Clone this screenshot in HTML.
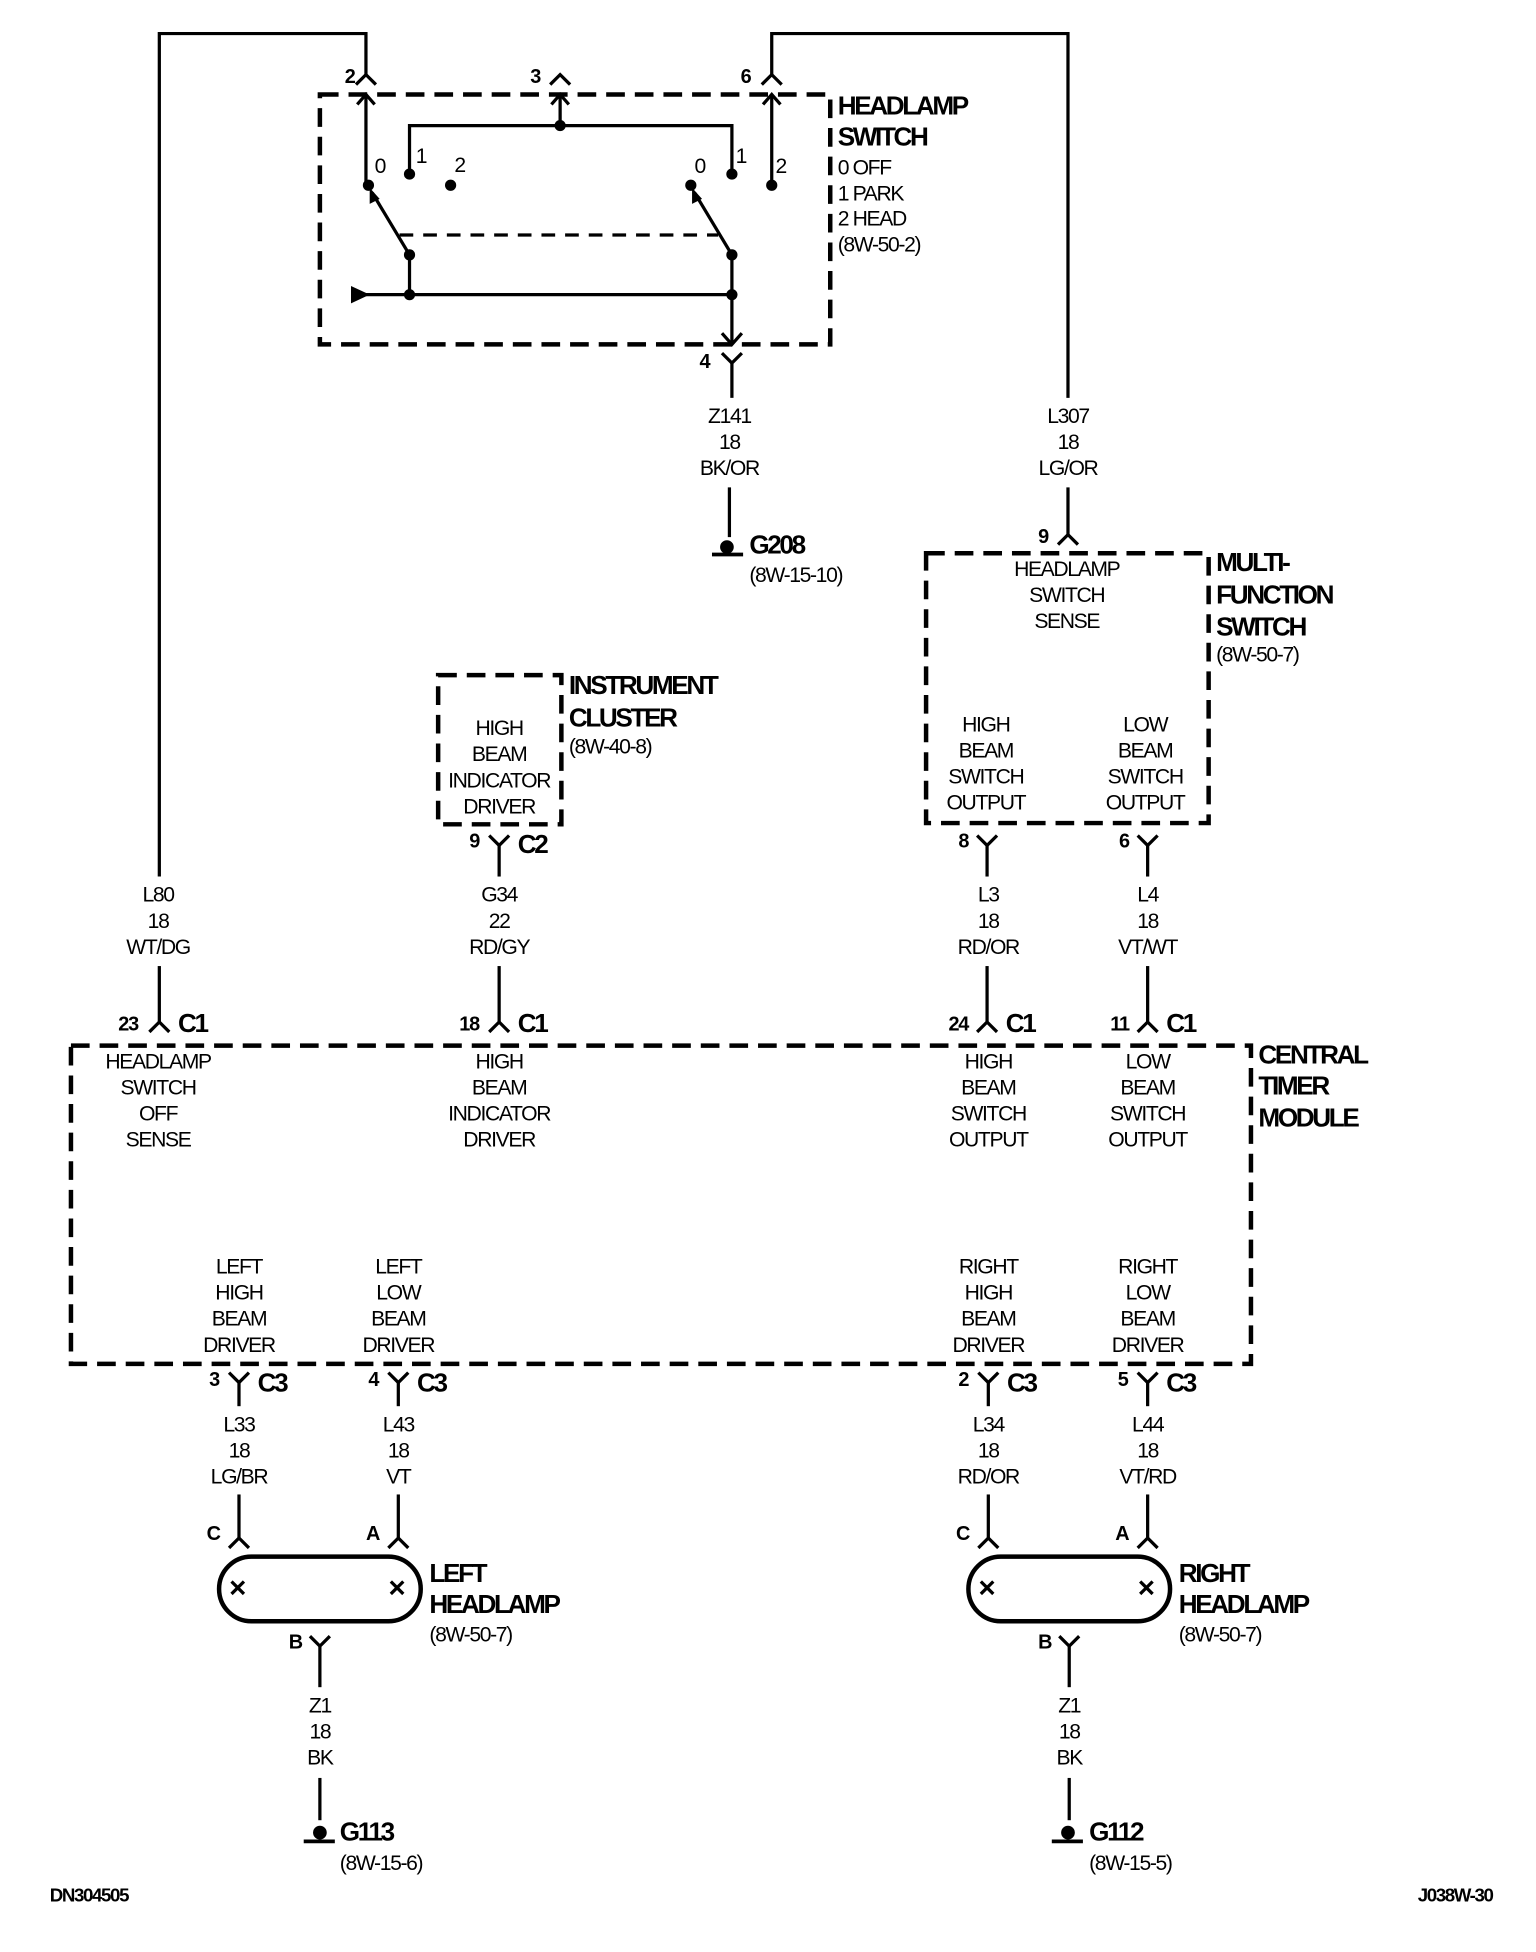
<!DOCTYPE html>
<html><head><meta charset="utf-8"><style>
html,body{margin:0;padding:0;background:#fff;}
svg{display:block;}
text{font-family:"Liberation Sans Narrow","Liberation Sans",sans-serif;fill:#000;}
.t{font-size:17px;text-anchor:middle;dominant-baseline:central;letter-spacing:-1.1px;}
.l{font-size:17px;dominant-baseline:central;letter-spacing:-1.1px;}
.b{font-size:21px;font-weight:bold;dominant-baseline:central;letter-spacing:-1.9px;}
.n{font-size:16px;font-weight:bold;dominant-baseline:central;letter-spacing:-1px;}
.w{stroke:#000;stroke-width:2.6;fill:none;}
.d{stroke:#000;stroke-width:3.6;fill:none;stroke-dasharray:15 8;}
</style></head><body>
<svg width="1536" height="1952" viewBox="0 0 1234 1570" preserveAspectRatio="none" xmlns="http://www.w3.org/2000/svg">
<!-- HEADLAMP SWITCH -->
<rect class="d" x="257" y="76" width="410" height="201"/>
<polyline class="w" points="128,705 128,27 294,27 294,60"/>
<polyline class="w" points="286,68 294,60 302,68"/>
<polyline class="w" points="442,68 450,60 458,68"/>
<polyline class="w" points="858,320 858,27 620,27 620,60"/>
<polyline class="w" points="612,68 620,60 628,68"/>
<text class="n" x="277" y="62">2</text>
<text class="n" x="426" y="62">3</text>
<text class="n" x="595" y="62">6</text>
<!-- inner -->
<line class="w" x1="294" y1="76" x2="294" y2="149"/>
<polyline class="w" points="287,84 294,76 301,84"/>
<line class="w" x1="450" y1="76" x2="450" y2="101"/>
<polyline class="w" points="443,84 450,76 457,84"/>
<line class="w" x1="620" y1="76" x2="620" y2="149"/>
<polyline class="w" points="613,84 620,76 627,84"/>
<polyline class="w" points="329,140 329,101 588,101 588,140"/>
<circle cx="450" cy="101" r="4.5"/>
<circle cx="329" cy="140" r="4.5"/>
<circle cx="588" cy="140" r="4.5"/>
<circle cx="296" cy="149" r="4.5"/>
<circle cx="362" cy="149" r="4.5"/>
<circle cx="555" cy="149" r="4.5"/>
<circle cx="620" cy="149" r="4.5"/>
<text class="l" x="301" y="134">0</text>
<text class="l" x="334" y="126">1</text>
<text class="l" x="365" y="133">2</text>
<text class="l" x="558" y="134">0</text>
<text class="l" x="591" y="126">1</text>
<text class="l" x="623" y="134">2</text>
<line x1="321" y1="189" x2="577" y2="189" stroke="#000" stroke-width="2.6" stroke-dasharray="11 8"/>
<line class="w" x1="329" y1="205" x2="299" y2="155"/>
<polygon points="297,151 297,164 305,160"/>
<line class="w" x1="588" y1="205" x2="558" y2="155"/>
<polygon points="556,151 556,164 564,160"/>
<circle cx="329" cy="205" r="4.5"/>
<circle cx="588" cy="205" r="4.5"/>
<line class="w" x1="329" y1="205" x2="329" y2="237"/>
<line class="w" x1="290" y1="237" x2="588" y2="237"/>
<polygon points="282,230 282,244 297,237"/>
<circle cx="329" cy="237" r="4.5"/>
<circle cx="588" cy="237" r="4.5"/>
<line class="w" x1="588" y1="205" x2="588" y2="277"/>
<polyline class="w" points="580,268 588,277 596,268"/>
<text class="b" x="673" y="85">HEADLAMP</text>
<text class="b" x="673" y="110">SWITCH</text>
<text class="l" x="673" y="135">0 OFF</text>
<text class="l" x="673" y="156">1 PARK</text>
<text class="l" x="673" y="176">2 HEAD</text>
<text class="l" x="673" y="197">(8W-50-2)</text>
<!-- conn 4 -->
<polyline class="w" points="580,284 588,292 596,284"/>
<line class="w" x1="588" y1="292" x2="588" y2="320"/>
<text class="n" x="562" y="291">4</text>
<text class="t" x="586" y="335">Z141</text>
<text class="t" x="586" y="356">18</text>
<text class="t" x="586" y="377">BK/OR</text>
<line class="w" x1="586" y1="392" x2="586" y2="432"/>
<circle cx="584" cy="440" r="5.5"/>
<line x1="572" y1="446" x2="597" y2="446" stroke="#000" stroke-width="3"/>
<text class="b" x="602" y="438">G208</text>
<text class="l" x="602" y="463">(8W-15-10)</text>
<!-- L307 -->
<text class="t" x="858" y="335">L307</text>
<text class="t" x="858" y="356">18</text>
<text class="t" x="858" y="377">LG/OR</text>
<line class="w" x1="858" y1="392" x2="858" y2="430"/>
<polyline class="w" points="850,438 858,430 866,438"/>
<text class="n" x="834" y="432">9</text>
<!-- MFS -->
<rect class="d" x="744" y="445" width="227" height="217"/>
<text class="t" x="857" y="458">HEADLAMP</text>
<text class="t" x="857" y="479">SWITCH</text>
<text class="t" x="857" y="500">SENSE</text>
<text class="b" x="977" y="452">MULTI-</text>
<text class="b" x="977" y="478">FUNCTION</text>
<text class="b" x="977" y="504">SWITCH</text>
<text class="l" x="977" y="527">(8W-50-7)</text>
<text class="t" x="792" y="583">HIGH</text>
<text class="t" x="792" y="604">BEAM</text>
<text class="t" x="792" y="625">SWITCH</text>
<text class="t" x="792" y="646">OUTPUT</text>
<text class="t" x="920" y="583">LOW</text>
<text class="t" x="920" y="604">BEAM</text>
<text class="t" x="920" y="625">SWITCH</text>
<text class="t" x="920" y="646">OUTPUT</text>
<!-- IC -->
<rect class="d" x="352" y="543" width="99" height="120"/>
<text class="t" x="401" y="586">HIGH</text>
<text class="t" x="401" y="607">BEAM</text>
<text class="t" x="401" y="628">INDICATOR</text>
<text class="t" x="401" y="649">DRIVER</text>
<text class="b" x="457" y="551">INSTRUMENT</text>
<text class="b" x="457" y="577">CLUSTER</text>
<text class="l" x="457" y="601">(8W-40-8)</text>
<!-- connectors Y under IC / MFS -->
<polyline class="w" points="393,672 401,680 409,672"/>
<line class="w" x1="401" y1="680" x2="401" y2="705"/>
<text class="n" x="377" y="677">9</text><text class="b" x="416" y="679">C2</text>
<polyline class="w" points="785,672 793,680 801,672"/>
<line class="w" x1="793" y1="680" x2="793" y2="705"/>
<text class="n" x="770" y="677">8</text>
<polyline class="w" points="914,672 922,680 930,672"/>
<line class="w" x1="922" y1="680" x2="922" y2="705"/>
<text class="n" x="899" y="677">6</text>
<!-- wire labels row -->
<text class="t" x="127" y="720">L80</text><text class="t" x="127" y="741">18</text><text class="t" x="127" y="762">WT/DG</text>
<text class="t" x="401" y="720">G34</text><text class="t" x="401" y="741">22</text><text class="t" x="401" y="762">RD/GY</text>
<text class="t" x="794" y="720">L3</text><text class="t" x="794" y="741">18</text><text class="t" x="794" y="762">RD/OR</text>
<text class="t" x="922" y="720">L4</text><text class="t" x="922" y="741">18</text><text class="t" x="922" y="762">VT/WT</text>
<!-- C1 -->
<line class="w" x1="128" y1="777" x2="128" y2="822"/><polyline class="w" points="120,830 128,822 136,830"/>
<text class="n" x="95" y="824">23</text><text class="b" x="143" y="823">C1</text>
<line class="w" x1="401" y1="777" x2="401" y2="822"/><polyline class="w" points="393,830 401,822 409,830"/>
<text class="n" x="369" y="824">18</text><text class="b" x="416" y="823">C1</text>
<line class="w" x1="793" y1="777" x2="793" y2="822"/><polyline class="w" points="785,830 793,822 801,830"/>
<text class="n" x="762" y="824">24</text><text class="b" x="808" y="823">C1</text>
<line class="w" x1="922" y1="777" x2="922" y2="822"/><polyline class="w" points="914,830 922,822 930,830"/>
<text class="n" x="892" y="824">11</text><text class="b" x="937" y="823">C1</text>
<!-- CTM -->
<rect class="d" x="57" y="841" width="948" height="256"/>
<text class="b" x="1011" y="848">CENTRAL</text>
<text class="b" x="1011" y="873">TIMER</text>
<text class="b" x="1011" y="899">MODULE</text>
<text class="t" x="127" y="854">HEADLAMP</text><text class="t" x="127" y="875">SWITCH</text><text class="t" x="127" y="896">OFF</text><text class="t" x="127" y="917">SENSE</text>
<text class="t" x="401" y="854">HIGH</text><text class="t" x="401" y="875">BEAM</text><text class="t" x="401" y="896">INDICATOR</text><text class="t" x="401" y="917">DRIVER</text>
<text class="t" x="794" y="854">HIGH</text><text class="t" x="794" y="875">BEAM</text><text class="t" x="794" y="896">SWITCH</text><text class="t" x="794" y="917">OUTPUT</text>
<text class="t" x="922" y="854">LOW</text><text class="t" x="922" y="875">BEAM</text><text class="t" x="922" y="896">SWITCH</text><text class="t" x="922" y="917">OUTPUT</text>
<text class="t" x="192" y="1019">LEFT</text><text class="t" x="192" y="1040">HIGH</text><text class="t" x="192" y="1061">BEAM</text><text class="t" x="192" y="1082">DRIVER</text>
<text class="t" x="320" y="1019">LEFT</text><text class="t" x="320" y="1040">LOW</text><text class="t" x="320" y="1061">BEAM</text><text class="t" x="320" y="1082">DRIVER</text>
<text class="t" x="794" y="1019">RIGHT</text><text class="t" x="794" y="1040">HIGH</text><text class="t" x="794" y="1061">BEAM</text><text class="t" x="794" y="1082">DRIVER</text>
<text class="t" x="922" y="1019">RIGHT</text><text class="t" x="922" y="1040">LOW</text><text class="t" x="922" y="1061">BEAM</text><text class="t" x="922" y="1082">DRIVER</text>
<!-- C3 -->
<polyline class="w" points="184,1104 192,1112 200,1104"/><line class="w" x1="192" y1="1112" x2="192" y2="1131"/>
<text class="n" x="168" y="1110">3</text><text class="b" x="207" y="1112">C3</text>
<polyline class="w" points="312,1104 320,1112 328,1104"/><line class="w" x1="320" y1="1112" x2="320" y2="1131"/>
<text class="n" x="296" y="1110">4</text><text class="b" x="335" y="1112">C3</text>
<polyline class="w" points="786,1104 794,1112 802,1104"/><line class="w" x1="794" y1="1112" x2="794" y2="1131"/>
<text class="n" x="770" y="1110">2</text><text class="b" x="809" y="1112">C3</text>
<polyline class="w" points="914,1104 922,1112 930,1104"/><line class="w" x1="922" y1="1112" x2="922" y2="1131"/>
<text class="n" x="898" y="1110">5</text><text class="b" x="937" y="1112">C3</text>
<text class="t" x="192" y="1146">L33</text><text class="t" x="192" y="1167">18</text><text class="t" x="192" y="1188">LG/BR</text>
<text class="t" x="320" y="1146">L43</text><text class="t" x="320" y="1167">18</text><text class="t" x="320" y="1188">VT</text>
<text class="t" x="794" y="1146">L34</text><text class="t" x="794" y="1167">18</text><text class="t" x="794" y="1188">RD/OR</text>
<text class="t" x="922" y="1146">L44</text><text class="t" x="922" y="1167">18</text><text class="t" x="922" y="1188">VT/RD</text>
<!-- lamp connectors -->
<line class="w" x1="192" y1="1202" x2="192" y2="1237"/><polyline class="w" points="184,1245 192,1237 200,1245"/>
<text class="n" x="166" y="1234">C</text>
<line class="w" x1="320" y1="1202" x2="320" y2="1237"/><polyline class="w" points="312,1245 320,1237 328,1245"/>
<text class="n" x="294" y="1234">A</text>
<line class="w" x1="794" y1="1202" x2="794" y2="1237"/><polyline class="w" points="786,1245 794,1237 802,1245"/>
<text class="n" x="768" y="1234">C</text>
<line class="w" x1="922" y1="1202" x2="922" y2="1237"/><polyline class="w" points="914,1245 922,1237 930,1245"/>
<text class="n" x="896" y="1234">A</text>
<!-- lamps -->
<rect x="176" y="1252" width="162" height="52" rx="26" fill="none" stroke="#000" stroke-width="3.6"/>
<path class="w" d="M186,1272 l10,10 M196,1272 l-10,10 M314,1272 l10,10 M324,1272 l-10,10" stroke-width="2"/>
<text class="b" x="345" y="1265">LEFT</text><text class="b" x="345" y="1290">HEADLAMP</text><text class="l" x="345" y="1315">(8W-50-7)</text>
<rect x="778" y="1252" width="162" height="52" rx="26" fill="none" stroke="#000" stroke-width="3.6"/>
<path class="w" d="M788,1272 l10,10 M798,1272 l-10,10 M916,1272 l10,10 M926,1272 l-10,10" stroke-width="2"/>
<text class="b" x="947" y="1265">RIGHT</text><text class="b" x="947" y="1290">HEADLAMP</text><text class="l" x="947" y="1315">(8W-50-7)</text>
<!-- B connectors & grounds -->
<polyline class="w" points="249,1316 257,1324 265,1316"/><line class="w" x1="257" y1="1324" x2="257" y2="1357"/>
<text class="n" x="232" y="1321">B</text>
<text class="t" x="257" y="1372">Z1</text><text class="t" x="257" y="1393">18</text><text class="t" x="257" y="1414">BK</text>
<line class="w" x1="257" y1="1430" x2="257" y2="1464"/>
<circle cx="257" cy="1474" r="5.5"/><line x1="244" y1="1481" x2="269" y2="1481" stroke="#000" stroke-width="3"/>
<text class="b" x="273" y="1473">G113</text><text class="l" x="273" y="1499">(8W-15-6)</text>
<polyline class="w" points="851,1316 859,1324 867,1316"/><line class="w" x1="859" y1="1324" x2="859" y2="1357"/>
<text class="n" x="834" y="1321">B</text>
<text class="t" x="859" y="1372">Z1</text><text class="t" x="859" y="1393">18</text><text class="t" x="859" y="1414">BK</text>
<line class="w" x1="859" y1="1430" x2="859" y2="1464"/>
<circle cx="858" cy="1474" r="5.5"/><line x1="845" y1="1481" x2="870" y2="1481" stroke="#000" stroke-width="3"/>
<text class="b" x="875" y="1473">G112</text><text class="l" x="875" y="1499">(8W-15-5)</text>
<text class="l" x="40" y="1524" font-weight="bold" style="font-size:15px">DN304505</text>
<text class="l" x="1139" y="1524" font-weight="bold" style="font-size:15px">J038W-30</text>
</svg>
</body></html>
